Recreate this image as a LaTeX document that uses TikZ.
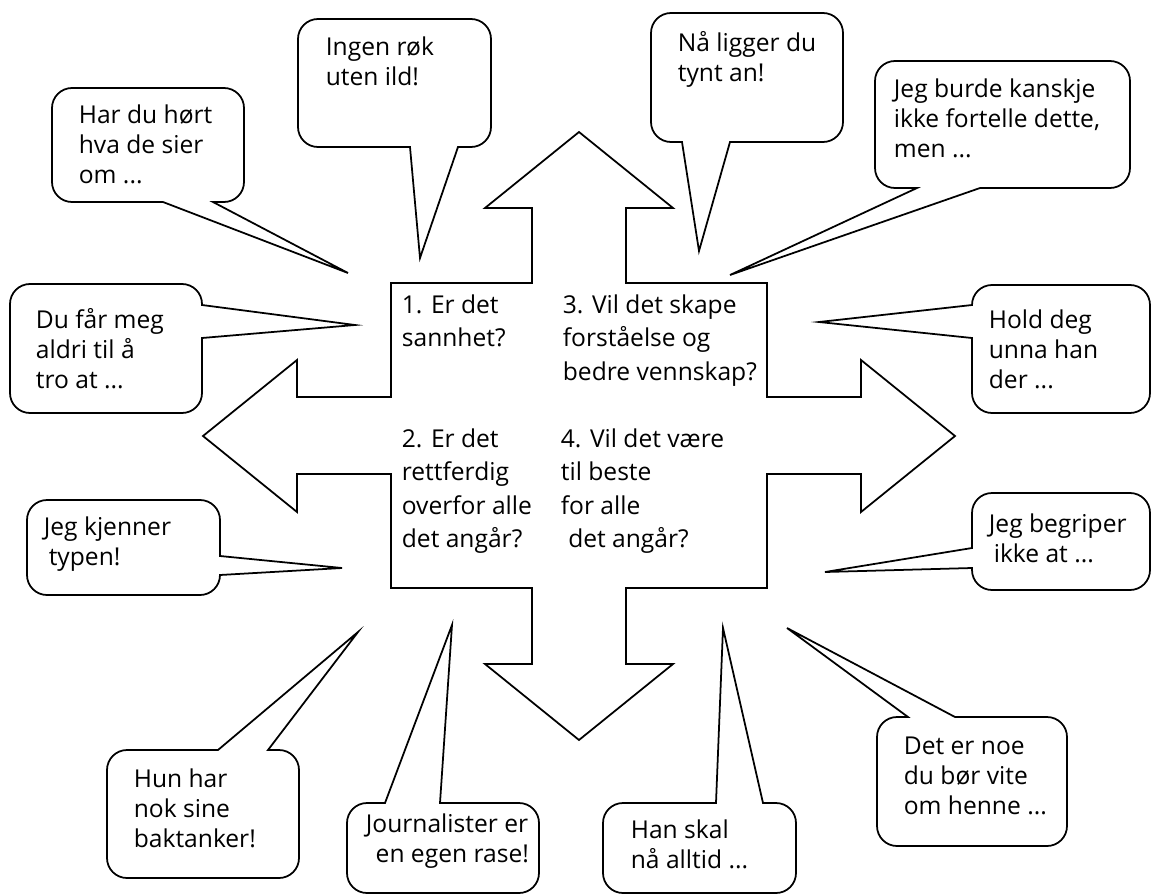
\documentclass[tikz,border=0pt]{standalone}
\usepackage{fontspec}
\setmainfont{Open Sans}
\usepackage{tikz}

\begin{document}
\begin{tikzpicture}[x=0.02cm, y=-0.02cm, line width=1pt,
    bubble/.style={draw, fill=white, rounded corners=0.4cm},
    say/.style={anchor=north west, align=left, inner sep=0pt, font=\fontsize{14}{17}\selectfont},
    question/.style={say, font=\fontsize{14}{19}\selectfont}]
    \useasboundingbox (0,0) rectangle (1153,896);

    % the cross with four arrow heads
    \draw (579,132) -- (673,208) -- (626,208) -- (626,283) -- (767,283) -- (767,397)
        -- (861,397) -- (861,360) -- (955,436) -- (861,512) -- (861,474) -- (767,474)
        -- (767,588) -- (626,588) -- (626,664) -- (673,664) -- (579,740) -- (485,664)
        -- (532,664) -- (532,588) -- (391,588) -- (391,474) -- (297,474) -- (297,512)
        -- (203,436) -- (297,360) -- (297,397) -- (391,397) -- (391,283) -- (532,283)
        -- (532,208) -- (485,208) -- cycle;

    \node[question] (sannhet) at (401,294) {1. Er det\\sannhet?};
    \node[question] (vennskap) at (562,294) {3. Vil det skape\\forståelse og\\bedre vennskap?};
    \node[question] (rettferdig) at (401,428) {2. Er det\\rettferdig\\overfor alle\\det angår?};
    \node[question] (beste) at (560,428) {4. Vil det være\\til beste\\for alle\\\hspace*{0.3em}det angår?};

    % bubbles above
    \draw[bubble] (148,88) -- (244,88) -- (244,202) [sharp corners] -- (213,202) -- (348,273)
        -- (163,202) [rounded corners=0.4cm] -- (52,202) -- (52,88) -- cycle;
    \draw[bubble] (394,19) -- (491,19) -- (491,147) [sharp corners] -- (458,147) -- (420,258)
        -- (410,147) [rounded corners=0.4cm] -- (298,147) -- (298,19) -- cycle;
    \draw[bubble] (747,13) -- (843,13) -- (843,142) [sharp corners] -- (730,142) -- (699,251)
        -- (682,142) [rounded corners=0.4cm] -- (651,142) -- (651,13) -- cycle;
    \draw[bubble] (1000,61) -- (1130,61) -- (1130,188) [sharp corners] -- (980,188) -- (730,275)
        -- (917,188) [rounded corners=0.4cm] -- (875,188) -- (875,61) -- cycle;

    % bubbles left and right
    \draw[bubble] (106,413) -- (10,413) -- (10,284) -- (202,284) [sharp corners] -- (202,305)
        -- (355,325) -- (202,338) [rounded corners=0.4cm] -- (202,413) -- cycle;
    \draw[bubble] (1061,285) -- (1150,285) -- (1150,413) -- (972,413) [sharp corners] -- (972,338)
        -- (819,322) -- (972,305) [rounded corners=0.4cm] -- (972,285) -- cycle;
    \draw[bubble] (123,595) -- (27,595) -- (27,500) -- (220,500) [sharp corners] -- (220,556)
        -- (342,568) -- (220,575) [rounded corners=0.4cm] -- (220,595) -- cycle;
    \draw[bubble] (1061,493) -- (1150,493) -- (1150,590) -- (972,590) [sharp corners] -- (972,568)
        -- (825,572) -- (972,548) [rounded corners=0.4cm] -- (972,493) -- cycle;

    % bubbles below
    \draw[bubble] (203,878) -- (107,878) -- (107,750) [sharp corners] -- (218,750) -- (358,632)
        -- (268,750) [rounded corners=0.4cm] -- (299,750) -- (299,878) -- cycle;
    \draw[bubble] (443,893) -- (347,893) -- (347,803) [sharp corners] -- (385,803) -- (452,625)
        -- (440,803) [rounded corners=0.4cm] -- (539,803) -- (539,893) -- cycle;
    \draw[bubble] (700,893) -- (603,893) -- (603,803) [sharp corners] -- (716,803) -- (723,628)
        -- (763,803) [rounded corners=0.4cm] -- (796,803) -- (796,893) -- cycle;
    \draw[bubble] (972,846) -- (877,846) -- (877,717) [sharp corners] -- (908,717) -- (787,628)
        -- (955,717) [rounded corners=0.4cm] -- (1067,717) -- (1067,846) -- cycle;

    \node[say] (hoert) at (78,104) {Har du hørt\\hva de sier\\om ...};
    \node[say] (roek) at (325,36) {Ingen røk\\uten ild!};
    \node[say] (tynt) at (677,31) {Nå ligger du\\tynt an!};
    \node[say] (kanskje) at (893,78) {Jeg burde kanskje\\ikke fortelle dette,\\men ...};
    \node[say] (aldri) at (35,308) {Du får meg\\aldri til å\\tro at ...};
    \node[say] (unna) at (988,309) {Hold deg\\unna han\\der ...};
    \node[say] (typen) at (43,516) {Jeg kjenner\\\hspace*{0.2em}typen!};
    \node[say] (begriper) at (988,513) {Jeg begriper\\\hspace*{0.2em}ikke at ...};
    \node[say] (baktanker) at (133,768) {Hun har\\nok sine\\baktanker!};
    \node[say] (rase) at (365,813) {Journalister er\\\hspace*{0.4em}en egen rase!};
    \node[say] (alltid) at (630,819) {Han skal\\nå alltid ...};
    \node[say] (henne) at (903,736) {Det er noe\\du bør vite\\om henne ...};
\end{tikzpicture}
\end{document}
